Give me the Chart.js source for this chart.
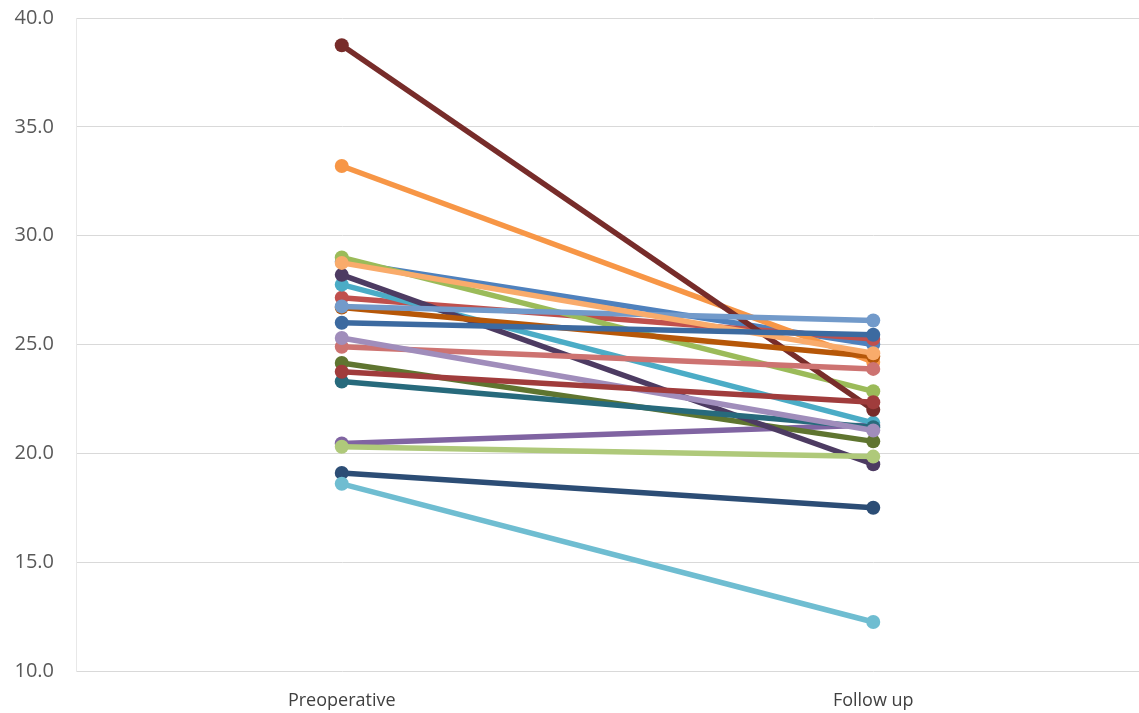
<!DOCTYPE html>
<html>
<head>
<meta charset="utf-8">
<script src="https://cdn.jsdelivr.net/npm/chart.js@4/dist/chart.umd.min.js"></script>
<style>
html,body{margin:0;padding:0;background:#fff;overflow:hidden;}
#clip{width:1139px;height:713px;overflow:hidden;position:relative;}
#wrap{width:1146px;height:713px;position:absolute;left:0;top:0;}
</style>
</head>
<body>
<div id="clip"><div id="wrap"><canvas id="c"></canvas></div></div>
<script>
const categories = ["Preoperative", "Follow up"];
const yTicks = [10, 15, 20, 25, 30, 35, 40];

const preoperative = [28.8, 27.15, 29.0, 20.45, 27.75, 33.2, 19.1, 38.75, 24.15, 28.2, 23.3, 26.7, 26.75, 24.9, 20.3, 25.3, 18.6, 28.75, 26.0, 23.75];
const followUp     = [25.0, 25.25, 22.85, 21.3, 21.4, 24.2, 17.5, 22.0, 20.55, 19.5, 21.2, 24.45, 26.1, 23.88, 19.85, 21.05, 12.25, 24.6, 25.45, 22.35];
const seriesColors = ["#4F81BD", "#C0504D", "#9BBB59", "#8064A2", "#4BACC6", "#F79646", "#2C4D75", "#772C2A", "#5F7530", "#4D3B62", "#276A7C", "#B65708", "#729ACA", "#CD7371", "#AFC97A", "#A08DBB", "#6FBDD1", "#F9AB6B", "#3C6AA0", "#A03C3C"];

const datasets = preoperative.map((v, i) => ({
  label: "Series " + (i + 1),
  data: [v, followUp[i]],
  borderColor: seriesColors[i],
  backgroundColor: seriesColors[i],
  pointBackgroundColor: seriesColors[i],
  pointBorderColor: seriesColors[i],
  borderWidth: 5.5,
  pointRadius: 7,
  pointBorderWidth: 0,
  tension: 0,
  order: -i
}));

new Chart(document.getElementById('c'), {
  type: 'line',
  data: { labels: categories, datasets },
  options: {
    responsive: true,
    maintainAspectRatio: false,
    animation: false,
    layout: { padding: { top: 18, right: 0, bottom: 0, left: 0 } },
    plugins: { legend: { display: false }, tooltip: { enabled: false } },
    scales: {
      x: {
        offset: true,
        grid: { display: false, drawTicks: false },
        border: { display: false },
        ticks: { color: '#404040', font: { family: 'Open Sans', size: 18 }, padding: 19 },
        afterFit: s => { s.height = 42; s.paddingLeft = 0; s.paddingRight = 0; }
      },
      y: {
        min: 10, max: 40,
        afterBuildTicks: s => { s.ticks = yTicks.map(v => ({ value: v })); },
        grid: { color: '#d9d9d9', lineWidth: 1, drawTicks: false },
        border: { display: true, color: '#e8e8e8' },
        ticks: { color: '#595959', font: { family: 'Open Sans', size: 20 }, padding: 22, callback: v => Number(v).toFixed(1) },
        afterFit: s => { s.width = 76; s.paddingTop = 0; s.paddingBottom = 0; }
      }
    }
  }
});
</script>
</body>
</html>
